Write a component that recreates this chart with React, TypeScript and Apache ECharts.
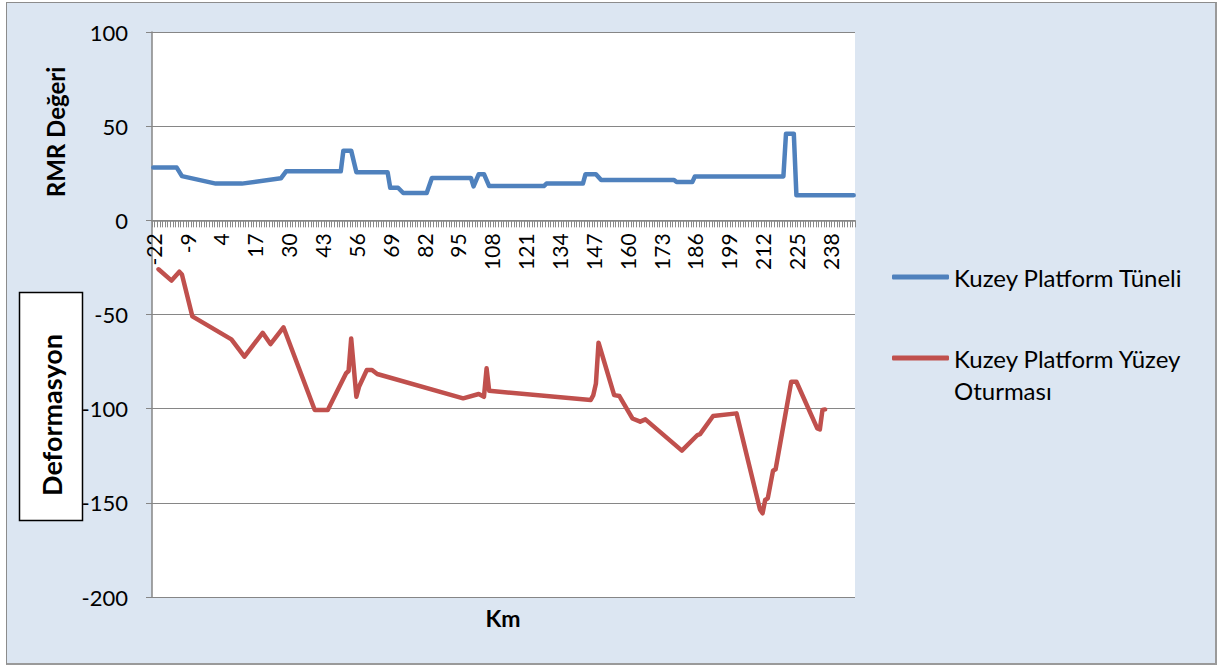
import React, { useEffect, useRef } from "react";
import * as echarts from "echarts";

// Category axis: km positions (consecutive integers), labels every 13th
const KM_FIRST = -22;
const KM_LAST = 247;
const LABEL_EVERY = 13;

// RMR değeri (Kuzey Platform Tüneli) – key points [km] / [value]
const rmrKm = [-22, -13, -11, 2, 12, 27, 29, 50, 51, 54, 56, 68, 69, 72, 74, 83, 85, 100, 101, 103, 105, 107, 128, 129, 143, 144, 148, 150, 178, 179, 185, 186, 220, 221, 224, 225, 247];
const rmrVal = [28, 28, 23.5, 19.5, 19.5, 22.3, 26, 26, 37, 37, 25.5, 25.5, 17.3, 17.3, 14.5, 14.5, 22.5, 22.5, 18, 24.5, 24.5, 18.2, 18.2, 19.5, 19.5, 24.5, 24.5, 21.4, 21.4, 20.3, 20.3, 23.3, 23.3, 46, 46, 13.3, 13.3];

// Deformasyon (Kuzey Platform Yüzey Oturması) – key points
const defKm = [-20, -15, -12, -11, -7, 8, 13, 20, 23, 28, 40, 45, 52, 53, 54, 56, 57, 60, 62, 64, 97, 103, 105, 106, 107, 146, 147, 148, 149, 155, 157, 162, 165, 167, 181, 187, 188, 193, 202, 211, 212, 213, 214, 216, 217, 223, 225, 233, 234, 235, 236];
const defVal = [-26, -32, -27.3, -28.8, -51, -63.2, -72.4, -59.7, -65.7, -56.8, -100.7, -100.7, -81.3, -80, -62.7, -93.7, -88.4, -79.5, -79.5, -81.6, -94.5, -92.2, -93.7, -78.6, -90.5, -95.4, -92.8, -86.6, -65, -92.8, -93.3, -105.2, -106.9, -105.7, -122.3, -114, -113.5, -103.9, -102.5, -153.5, -155.6, -148.5, -147.6, -133, -132.2, -85.7, -85.7, -110.5, -111, -100.7, -100.4];

const SERIES_NAMES = ["Kuzey Platform Tüneli", "Kuzey Platform Yüzey Oturması"];
const Y_MIN = -200;
const Y_MAX = 100;
const Y_STEP = 50;

const FONT = "Lato";
const GRAY = "#868686";

const GRID_TOP = 32;
const GRID_H = 565;

function buildCategories(): string[] {
  const out: string[] = [];
  for (let k = KM_FIRST; k <= KM_LAST; k++) out.push(String(k));
  return out;
}

function buildSeries(cats: string[], kms: number[], vals: number[]) {
  const arr: (number | null)[] = cats.map(() => null);
  kms.forEach((k, i) => {
    const idx = cats.indexOf(String(k));
    if (idx >= 0) arr[idx] = vals[i];
  });
  return arr;
}

export default function App() {
  const ref = useRef<HTMLDivElement>(null);

  useEffect(() => {
    if (!ref.current) return;
    const chart = echarts.init(ref.current, undefined, { renderer: "svg" });
    const cats = buildCategories();
    const rmr = buildSeries(cats, rmrKm, rmrVal);
    const def = buildSeries(cats, defKm, defVal);
    // x axis sits at value 0
    const zeroOffset = -(GRID_H * (0 - Y_MIN)) / (Y_MAX - Y_MIN);

    const legendText = { fontFamily: FONT, fontSize: 24, color: "#000", lineHeight: 28 };

    const option: any = {
      animation: false,
      backgroundColor: "transparent",
      textStyle: { fontFamily: FONT },
      grid: {
        left: 152,
        top: GRID_TOP,
        width: 703,
        height: GRID_H,
        show: true,
        backgroundColor: "#ffffff",
        borderWidth: 0,
        containLabel: false,
      },
      legend: [
        {
          data: [SERIES_NAMES[0]],
          orient: "vertical",
          left: 892,
          top: 263,
          padding: 0,
          icon: "roundRect",
          itemWidth: 57,
          itemHeight: 5,
          textStyle: legendText,
          selectedMode: false,
        },
        {
          data: [SERIES_NAMES[1]],
          orient: "vertical",
          left: 892,
          top: 344,
          padding: 0,
          icon: "roundRect",
          itemWidth: 57,
          itemHeight: 5,
          formatter: () => "Kuzey Platform Yüzey",
          textStyle: legendText,
          selectedMode: false,
        },
      ],
      xAxis: {
        type: "category",
        data: cats,
        boundaryGap: true,
        offset: zeroOffset,
        axisLine: { onZero: false, lineStyle: { color: GRAY, width: 1.5 } },
        axisTick: { show: true, interval: 0, length: 7, lineStyle: { color: "#8a8a8a", width: 1 } },
        axisLabel: {
          interval: LABEL_EVERY - 1,
          rotate: 90,
          margin: 13,
          fontFamily: FONT,
          fontSize: 21,
          color: "#000",
        },
        splitLine: { show: false },
      },
      yAxis: {
        type: "value",
        min: Y_MIN,
        max: Y_MAX,
        interval: Y_STEP,
        axisLine: { show: true, lineStyle: { color: GRAY, width: 1.5 } },
        axisTick: { show: true, length: 6, lineStyle: { color: GRAY } },
        axisLabel: { margin: 24, fontFamily: FONT, fontSize: 22, color: "#000" },
        splitLine: { show: true, lineStyle: { color: GRAY, width: 1.2 } },
      },
      series: [
        {
          name: SERIES_NAMES[0],
          type: "line",
          data: rmr,
          connectNulls: true,
          showSymbol: false,
          symbol: "none",
          lineStyle: { color: "#4F81BD", width: 4.5, join: "round", cap: "round" },
          itemStyle: { color: "#4F81BD" },
          z: 3,
        },
        {
          name: SERIES_NAMES[1],
          type: "line",
          data: def,
          connectNulls: true,
          showSymbol: false,
          symbol: "none",
          lineStyle: { color: "#C0504D", width: 4.5, join: "round", cap: "round" },
          itemStyle: { color: "#C0504D" },
          z: 3,
        },
      ],
      graphic: [
        {
          type: "text",
          x: 55,
          y: 132,
          rotation: Math.PI / 2,
          style: {
            text: "RMR Değeri",
            font: `bold 24px ${FONT}`,
            fill: "#000",
            align: "center",
            verticalAlign: "middle",
            textAlign: "center",
            textVerticalAlign: "middle",
          },
        },
        {
          type: "rect",
          shape: { x: 19.5, y: 292.5, width: 63, height: 228 },
          style: { fill: "#ffffff", stroke: "#000", lineWidth: 1.5 },
        },
        {
          type: "text",
          x: 51,
          y: 415,
          rotation: Math.PI / 2,
          style: {
            text: "Deformasyon",
            font: `bold 27px ${FONT}`,
            fill: "#000",
            align: "center",
            verticalAlign: "middle",
            textAlign: "center",
            textVerticalAlign: "middle",
          },
        },
        {
          type: "text",
          x: 503,
          y: 618,
          style: {
            text: "Km",
            font: `bold 23px ${FONT}`,
            fill: "#000",
            align: "center",
            verticalAlign: "middle",
            textAlign: "center",
            textVerticalAlign: "middle",
          },
        },
        {
          type: "text",
          x: 954,
          y: 390,
          style: {
            text: "Oturması",
            font: `24px ${FONT}`,
            fill: "#000",
            align: "left",
            verticalAlign: "middle",
            textAlign: "left",
            textVerticalAlign: "middle",
          },
        },
      ],
    };

    chart.setOption(option);
    return () => chart.dispose();
  }, []);

  return (
    <div style={{ position: "fixed", left: 0, top: 0, width: 1232, height: 666, background: "#ffffff" }}>
      <div
        style={{
          position: "absolute",
          left: 6,
          top: 2,
          width: 1211,
          height: 663,
          boxSizing: "border-box",
          background: "#DCE6F2",
          borderTop: "1px solid #8c8c8c",
          borderLeft: "1px solid #8c8c8c",
          borderRight: "2px solid #9a9a9a",
          borderBottom: "2px solid #9a9a9a",
        }}
      />
      <div ref={ref} style={{ position: "absolute", left: 0, top: 0, width: 1232, height: 666 }} />
    </div>
  );
}
